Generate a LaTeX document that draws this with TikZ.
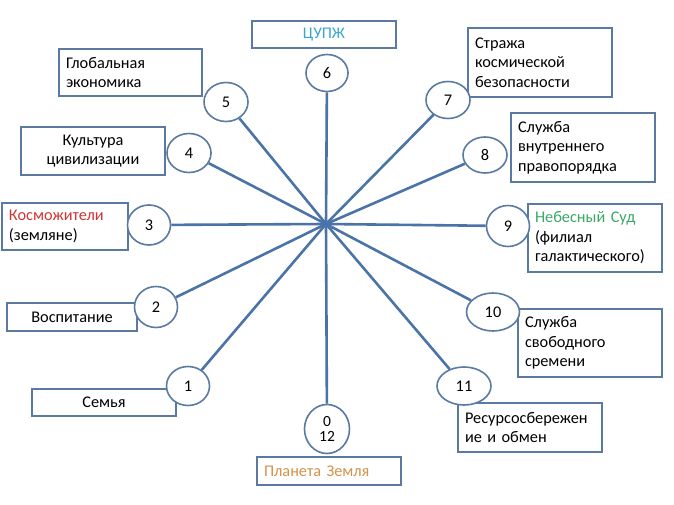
\documentclass[tikz,border=0pt]{standalone}
\usepackage{fontspec}
\setmainfont{Carlito}
\usetikzlibrary{shapes.geometric}
\definecolor{spoke}{HTML}{4A74A8}
\definecolor{frame}{HTML}{5A7AA2}
\definecolor{cupzh}{HTML}{3AA6D0}
\definecolor{earth}{HTML}{D4924A}
\definecolor{kred}{HTML}{D03434}
\definecolor{kgreen}{HTML}{3AA868}
\begin{document}
\begin{tikzpicture}[x=1pt,y=-1pt,
  every node/.style={font=\fontsize{16.3}{19.5}\selectfont},
  lbox/.style={draw=frame,line width=1.6pt,fill=white,rectangle,inner xsep=7pt,inner ysep=0pt,align=left},
  cbox/.style={draw=frame,line width=1.6pt,fill=white,rectangle,inner xsep=7pt,inner ysep=0pt,align=center},
  num/.style={draw=frame,line width=1.6pt,fill=white,ellipse,inner sep=0pt},
  spk/.style={draw=spoke,line width=2.6pt}]
\useasboundingbox (0,0) rectangle (674,505);
\fill[white] (0,0) rectangle (674,505);
% boxes
\node[cbox,text width=130pt,minimum height=27pt,text=cupzh] (bcup) at (324,34.5) {ЦУПЖ};
\node[lbox,text width=129pt,minimum height=47pt] (b5) at (130.5,72.5) {Глобальная\\экономика};
\node[cbox,text width=130pt,minimum height=48pt] (b4) at (93,151) {Культура\\цивилизации};
\node[lbox,text width=112pt,minimum height=47pt] (b3) at (65,226.5) {\textcolor{kred}{Косможители}\\(земляне)};
\node[cbox,text width=116pt,minimum height=28pt] (b2) at (72,317) {Воспитание};
\node[cbox,text width=130pt,minimum height=27pt] (b1) at (104,402.5) {Семья};
\node[lbox,text width=130pt,minimum height=28pt,text=earth] (b0) at (329,471) {Планета Земля};
\node[lbox,text width=130pt,minimum height=69pt] (b7) at (540,62.5) {Стража\\космической\\безопасности};
\node[lbox,text width=130pt,minimum height=69pt] (b8) at (583,147.5) {Служба\\внутреннего\\правопорядка};
\node[lbox,text width=120pt,minimum height=68pt] (b9) at (595,238) {\textcolor{kgreen}{Небесный Суд}\\(филиал\\галактического)};
\node[lbox,text width=130pt,minimum height=68pt] (b10) at (590,343) {Служба\\свободного\\сремени};
\node[lbox,text width=130pt,minimum height=49pt] (b11) at (530,427.5) {Ресурсосбережен\\ие и обмен};
% circles
\node[num,minimum width=42pt,minimum height=37pt] (n6) at (327,73) {6};
\node[num,minimum width=44pt,minimum height=39pt] (n5) at (226,102) {5};
\node[num,minimum width=44pt,minimum height=39pt] (n4) at (189,153) {4};
\node[num,minimum width=43pt,minimum height=40pt] (n3) at (149,225) {3};
\node[num,minimum width=43pt,minimum height=41pt] (n2) at (156,307) {2};
\node[num,minimum width=43pt,minimum height=39pt] (n1) at (188,386) {1};
\node[num,minimum width=45pt,minimum height=49pt,align=center,font=\fontsize{15.5}{15}\selectfont] (n0) at (327,429) {0\\12};
\node[num,minimum width=44pt,minimum height=37pt] (n7) at (448,100) {7};
\node[num,minimum width=44pt,minimum height=36pt] (n8) at (485,155) {8};
\node[num,minimum width=43pt,minimum height=41pt] (n9) at (508,226) {9};
\node[num,minimum width=53pt,minimum height=38pt] (n10) at (493,312) {10};
\node[num,minimum width=54pt,minimum height=38pt] (n11) at (464,386) {11};
% spokes
\coordinate (c) at (326,224);
\foreach \k in {0,1,2,3,4,5,6,7,8,9,10,11}{
  \draw[spk] (c) -- (n\k);
}
\end{tikzpicture}
\end{document}
